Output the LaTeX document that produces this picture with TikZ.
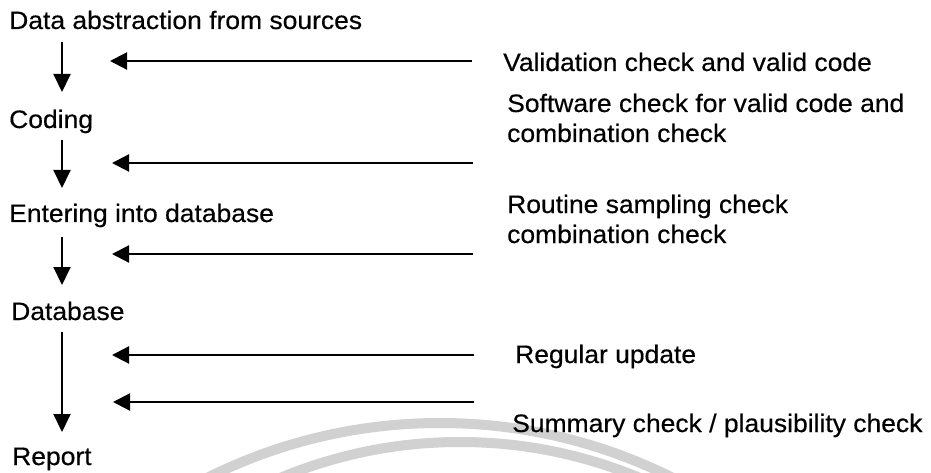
\documentclass[tikz,border=0pt]{standalone}
\usepackage{fontspec}
\setmainfont{Liberation Sans}[FakeStretch=1.05,FakeBold=0.4]
\usetikzlibrary{arrows.meta}
\tikzset{
  lbl/.style={anchor=base west, inner sep=0pt, font=\fontsize{25.2}{30}\selectfont, align=left},
  flow/.style={line width=2pt, -{Triangle[length=18pt,width=17pt]}},
  feed/.style={line width=2.2pt, -{Triangle[length=17pt,width=17pt]}},
  wmark/.style={line width=10pt, draw=black!18}
}
\begin{document}
\begin{tikzpicture}[x=1pt,y=-1pt]
\useasboundingbox (0,0) rectangle (931,473);
% faint watermark arcs
\begin{scope}
\clip (0,0) rectangle (931,473);
\draw[wmark] (440,943) circle[radius=520];
\draw[wmark] (460,908) circle[radius=466];
\end{scope}
% left column
\node[lbl] (data) at (9,29) {Data abstraction from sources};
\node[lbl] (coding) at (9,128) {Coding};
\node[lbl] (enter) at (9,222) {Entering into database};
\node[lbl] (db) at (11,320) {Database};
\node[lbl] (report) at (12,465) {Report};
% right column
\node[lbl] (val) at (503,71) {Validation check and valid code};
\node[lbl] (soft) at (507,142) {Software check for valid code and\\combination check};
\node[lbl] (rout) at (507,243) {Routine sampling check\\combination check};
\node[lbl] (reg) at (515,363) {Regular update};
\node[lbl] (sum) at (512,432) {Summary check / plausibility check};
% flow arrows
\coordinate (v1a) at (62,42);  \coordinate (v1b) at (62,92);
\coordinate (v2a) at (62,140); \coordinate (v2b) at (62,188);
\coordinate (v3a) at (62,237); \coordinate (v3b) at (62,285);
\coordinate (v4a) at (62,332); \coordinate (v4b) at (62,432);
\draw[flow] (v1a) -- (v1b);
\draw[flow] (v2a) -- (v2b);
\draw[flow] (v3a) -- (v3b);
\draw[flow] (v4a) -- (v4b);
% check arrows
\coordinate (h1a) at (472,61);  \coordinate (h1b) at (110,61);
\coordinate (h2a) at (473,163); \coordinate (h2b) at (112,163);
\coordinate (h3a) at (473,254); \coordinate (h3b) at (112,254);
\coordinate (h4a) at (474,355); \coordinate (h4b) at (112,355);
\coordinate (h5a) at (474,402); \coordinate (h5b) at (113,402);
\draw[feed] (h1a) -- (h1b);
\draw[feed] (h2a) -- (h2b);
\draw[feed] (h3a) -- (h3b);
\draw[feed] (h4a) -- (h4b);
\draw[feed] (h5a) -- (h5b);
\end{tikzpicture}
\end{document}
